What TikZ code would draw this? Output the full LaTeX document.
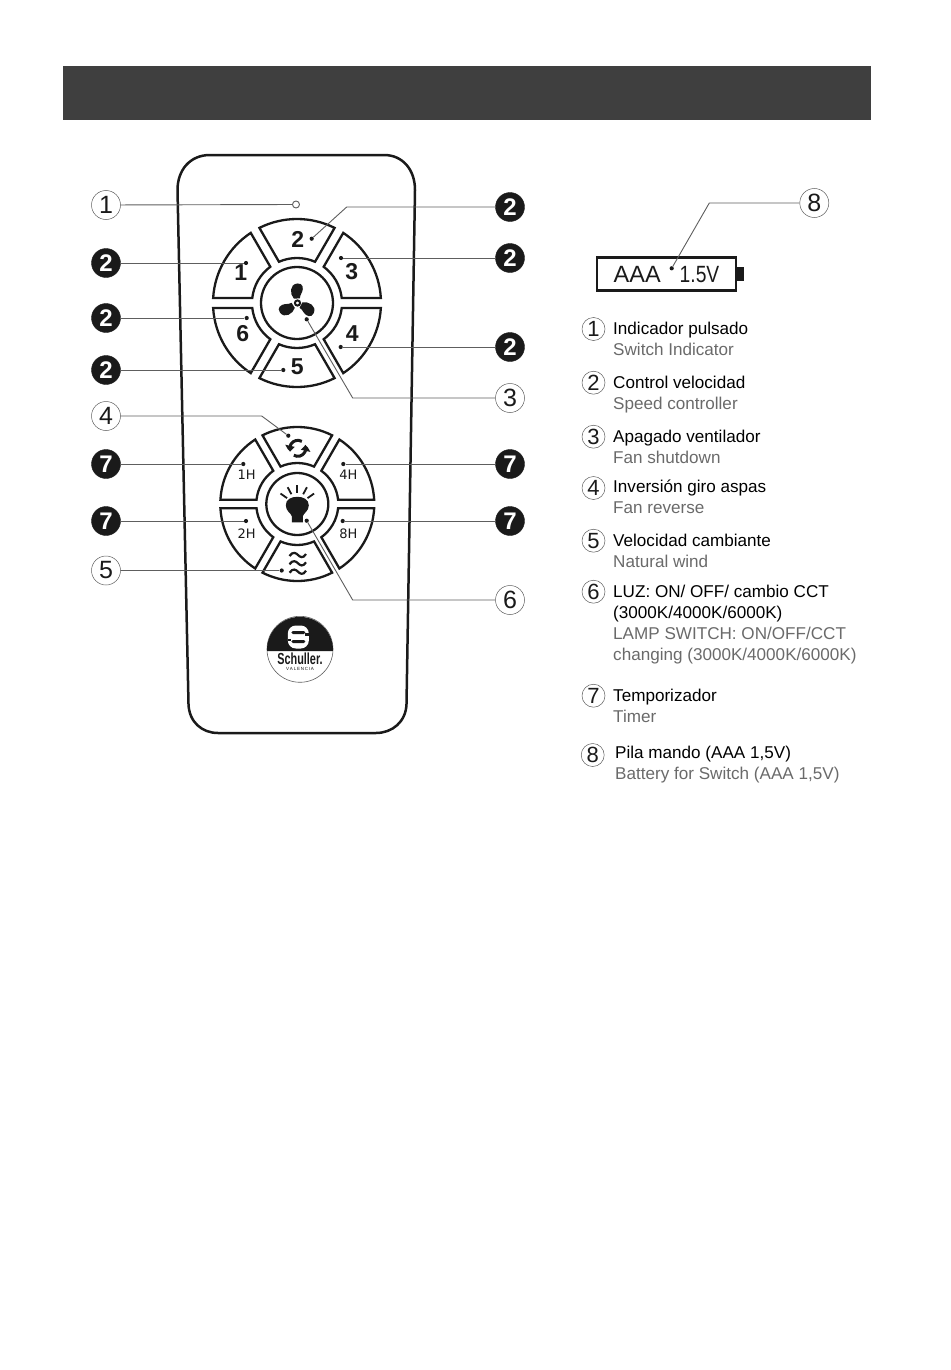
\documentclass[tikz,border=0pt]{standalone}
\usepackage{fontspec}
\setmainfont{Liberation Sans}
\usepackage{xcolor}
\usepackage{tikz}
\usetikzlibrary{arrows.meta,bending,positioning}

\definecolor{headgray}{HTML}{3F3F3F}
\definecolor{leadgray}{HTML}{5E5E5E}
\definecolor{inkblack}{HTML}{1A1A1A}
\definecolor{subgray}{HTML}{6A6A6A}

\tikzset{
  callblack/.style={circle, fill=inkblack, draw=inkblack, minimum size=29pt, inner sep=0pt,
    text=white, font=\fontsize{24}{24}\selectfont\bfseries},
  callwhite/.style={circle, fill=white, draw=leadgray, line width=0.5pt, minimum size=29pt, inner sep=0pt,
    text=inkblack, font=\fontsize{25}{25}\selectfont},
  legcircle/.style={circle, fill=white, draw=leadgray, line width=0.5pt, minimum size=23pt, inner sep=0pt,
    text=inkblack, font=\fontsize{22}{22}\selectfont},
  legtext/.style={anchor=west, align=left, inner sep=0pt, text=black, font=\fontsize{17.1}{21}\selectfont},
  leaddot/.style={circle, fill=inkblack, minimum size=4.2pt, inner sep=0pt},
  lead/.style={draw=leadgray, line width=0.9pt},
  keyline/.style={draw=inkblack, line width=2.3pt, fill=white},
  keynum/.style={inner sep=0pt, text=inkblack, font=\fontsize{23}{23}\selectfont\bfseries},
  timernum/.style={inner sep=0pt, text=inkblack, font=\fontsize{13}{13}\selectfont\fontspec{DejaVu Sans}},
}

% one ring of six keys round (0,0): #1 outer radius, #2 inner radius, #3 half gap
\newcommand{\keyring}[3]{
  \foreach \mid in {90,30,-30,-90,-150,150} {
    \pgfmathsetmacro{\dout}{asin(#3/#1)}
    \pgfmathsetmacro{\din}{asin(#3/#2)}
    \pgfmathsetmacro{\oa}{\mid-30+\dout}
    \pgfmathsetmacro{\ob}{\mid+30-\dout}
    \pgfmathsetmacro{\ia}{\mid+30-\din}
    \pgfmathsetmacro{\ib}{\mid-30+\din}
    \draw[keyline] (\oa:#1pt) arc[start angle=\oa, end angle=\ob, radius=#1pt]
      -- (\ia:#2pt) arc[start angle=\ia, end angle=\ib, radius=#2pt] -- cycle;
  }
}

\begin{document}
\begin{tikzpicture}[x=1pt, y=1pt, >=Latex]
\useasboundingbox (0,0) rectangle (950,-1370);
\fill[headgray] (63,-66) rectangle (871,-120);

% remote body
\draw[draw=inkblack, line width=2.5pt, line join=round] (210,-155) -- (384,-155)
 .. controls (403,-155) and (415,-170) .. (415,-190)
 -- (406.5,-704)
 .. controls (406,-722) and (392,-733) .. (376,-733)
 -- (218,-733)
 .. controls (202,-733) and (189,-722) .. (188.5,-704)
 -- (177.5,-190)
 .. controls (177.5,-170) and (190,-155) .. (210,-155) -- cycle;

% upper wheel
\begin{scope}[shift={(297,-303)}]
  \keyring{84}{45}{5}
  \draw[keyline] (0,0) circle[radius=36pt];
  \foreach \turn in {0,120,240} {
    \fill[inkblack, rotate=\turn+2] (-3,4.5) .. controls (-7,9) and (-7,19) .. (1,19.5)
      .. controls (7,20) and (7,14) .. (5.5,11) .. controls (4,8) and (3,6.5) .. (3,4.5) -- cycle;
  }
  \draw[inkblack, line width=2pt, fill=white] (0.5,0) circle[radius=2.6pt];
\end{scope}
\node[keynum] (up2) at (297.7,-239.3) {2};
\node[keynum] (up3) at (351.7,-271.7) {3};
\node[keynum] (up4) at (352.3,-334) {4};
\node[keynum] (up5) at (297.3,-366.7) {5};
\node[keynum] (up6) at (242.7,-333.3) {6};
\node[keynum] (up1) at (240.7,-272.7) {1};

% lower wheel
\begin{scope}[shift={(297.3,-504)}]
  \keyring{77}{41}{4.2}
  \draw[keyline] (0,0) circle[radius=31pt];
\end{scope}
\node[timernum] (low1) at (246.7,-475) {1H};
\node[timernum] (low4) at (348.3,-475) {4H};
\node[timernum] (low2) at (246.7,-533.3) {2H};
\node[timernum] (low8) at (348.3,-533.3) {8H};

% lamp
\begin{scope}[shift={(297.3,-505.3)}]
  \fill[inkblack] (-5.5,-17) -- (-5.5,-11) .. controls (-6,-8) and (-11.5,-6) .. (-11.5,0)
    .. controls (-11.5,6) and (-6,8.5) .. (0,8.5) .. controls (6,8.5) and (11.5,6) .. (11.5,0)
    .. controls (11.5,-6) and (6,-8) .. (5.5,-11) -- (5.5,-17) -- cycle;
  \foreach \ray in {35,62,90,118,145} {
    \draw[inkblack, line width=1.8pt] (\ray:12.5pt) -- (\ray:20.5pt);
  }
\end{scope}

% reverse arrows
\begin{scope}[shift={(297.8,-448.3)}]
  \draw[inkblack, line width=3pt, -{Triangle[bend,width=9.5pt,length=6pt]}] (60:8pt) arc[start angle=60, end angle=205, radius=8pt];
  \draw[inkblack, line width=3pt, -{Triangle[bend,width=9.5pt,length=6pt]}] (240:8pt) arc[start angle=240, end angle=385, radius=8pt];
\end{scope}

% wind waves
\foreach \wy in {-555,-563.3,-571.7} {
  \draw[inkblack, line width=2.2pt] (289.5,\wy-1) .. controls (293,\wy+4) and (296,\wy+2) .. (298,\wy)
    .. controls (300,\wy-2) and (303,\wy-4) .. (306,\wy+1);
}

% logo
\draw[draw=leadgray, line width=0.6pt, fill=white] (300,-649.3) circle[radius=33pt];
\fill[inkblack] (267,-651) arc[start angle=182, end angle=-2, radius=33pt] -- cycle;
\begin{scope}[shift={(298.3,-637)}]
  \fill[white, rounded corners=8pt] (-10.5,-11.5) rectangle (10.5,11.5);
  \fill[inkblack, rounded corners=1.5pt] (-7,6) rectangle (7,3);
  \fill[inkblack, rounded corners=1.5pt] (-7,-6) rectangle (7,-3);
  \fill[inkblack] (-10.5,-1.5) rectangle (-7,-4);
  \fill[inkblack] (10.5,1.5) rectangle (7,4);
\end{scope}
\node[inner sep=0pt, text=inkblack, font=\fontsize{16}{16}\selectfont\bfseries] (brand) at (300,-658.5)
  {\scalebox{0.68}[1]{Schuller.}};
\node[inner sep=0pt, text=inkblack, font=\fontsize{4.5}{5}\selectfont, below=3pt of brand] (city) {V\,A\,L\,E\,N\,C\,I\,A};

% callouts, left
\node[callwhite] (c1) at (106,-205) {1};
\node[callblack] (s1) at (106,-263) {2};
\node[callblack] (s6) at (106,-318) {2};
\node[callblack] (s5) at (106,-370) {2};
\node[callwhite] (c4) at (106,-416) {4};
\node[callblack] (t1) at (106,-464) {7};
\node[callblack] (t2) at (106,-521) {7};
\node[callwhite] (c5) at (106,-570.5) {5};
% callouts, right
\node[callblack] (s2) at (510,-207) {2};
\node[callblack] (s3) at (510,-258) {2};
\node[callblack] (s4) at (510,-347) {2};
\node[callwhite] (c3) at (510,-398) {3};
\node[callblack] (t4) at (510,-464) {7};
\node[callblack] (t8) at (510,-521) {7};
\node[callwhite] (c6) at (510,-600) {6};

% led and target dots
\node[circle, draw=leadgray, line width=0.9pt, fill=white, minimum size=7pt, inner sep=0pt] (led) at (296,-204.5) {};
\node[leaddot] (d1) at (246,-263) {};
\node[leaddot] (d2) at (311.7,-238.7) {};
\node[leaddot] (d3) at (341,-258) {};
\node[leaddot] (d4) at (340.7,-347) {};
\node[leaddot] (d5) at (283.3,-370) {};
\node[leaddot] (d6) at (246.7,-318) {};
\node[leaddot] (dfan) at (306.7,-319.3) {};
\node[leaddot] (drev) at (288.3,-435.7) {};
\node[leaddot] (d1h) at (243.3,-464) {};
\node[leaddot] (d4h) at (343.3,-464) {};
\node[leaddot] (d2h) at (246,-521) {};
\node[leaddot] (d8h) at (342.7,-521) {};
\node[leaddot] (dwind) at (281.7,-570.5) {};
\node[leaddot] (dlamp) at (306.7,-520.7) {};

\coordinate (b2) at (346.7,-207);
\coordinate (b3) at (352.7,-398);
\coordinate (b4) at (261.7,-416);
\coordinate (b6) at (352.7,-600);

\draw[lead] (c1) -- (led);
\draw[lead] (s1) -- (d1);
\draw[lead] (s6) -- (d6);
\draw[lead] (s5) -- (d5);
\draw[lead] (t1) -- (d1h);
\draw[lead] (t2) -- (d2h);
\draw[lead] (c5) -- (dwind);
\draw[lead] (s3) -- (d3);
\draw[lead] (s4) -- (d4);
\draw[lead] (t4) -- (d4h);
\draw[lead] (t8) -- (d8h);
\draw[lead] (s2) -- (b2) -- (d2);
\draw[lead] (c3) -- (b3) -- (dfan);
\draw[lead] (c4) -- (b4) -- (drev);
\draw[lead] (c6) -- (b6) -- (dlamp);

% battery
\draw[draw=inkblack, line width=2.4pt] (596.7,-257.3) rectangle (736,-290.3);
\fill[inkblack] (736,-267.3) rectangle (743.5,-280.7);
\node[inner sep=0pt, text=inkblack, font=\fontsize{23.5}{24}\selectfont] (batt) at (666.5,-274.5)
  {AAA\hspace{19pt}\scalebox{0.82}[1]{1.5V}};
\node[leaddot] (dbat) at (671.7,-268.3) {};
\node[callwhite] (c8) at (814.3,-203) {8};
\coordinate (b8) at (709.3,-203);
\draw[lead] (c8) -- (b8) -- (dbat);

% legend
\node[legcircle] (l1) at (593.5,-329) {1};
\node[legcircle] (l2) at (593.5,-382.7) {2};
\node[legcircle] (l3) at (593.5,-436.7) {3};
\node[legcircle] (l4) at (593.5,-488) {4};
\node[legcircle] (l5) at (593.5,-540.7) {5};
\node[legcircle] (l6) at (593.5,-591.7) {6};
\node[legcircle] (l7) at (593.5,-695.7) {7};
\node[legcircle] (l8) at (592.7,-755) {8};
\node[legtext] (t1a) at (613,-338.5) {Indicador pulsado\\ \textcolor{subgray}{Switch Indicator}};
\node[legtext] (t2a) at (613,-394.5) {Control velocidad\\ \textcolor{subgray}{Speed controller}};
\node[legtext] (t3a) at (613,-446.5) {Apagado ventilador\\ \textcolor{subgray}{Fan shutdown}};
\node[legtext] (t4a) at (613,-497) {Inversión giro aspas\\ \textcolor{subgray}{Fan reverse}};
\node[legtext] (t5a) at (613,-551) {Velocidad cambiante\\ \textcolor{subgray}{Natural wind}};
\node[legtext] (t6a) at (613,-624.5) {LUZ: ON/ OFF/ cambio CCT\\ (3000K/4000K/6000K)\\ \textcolor{subgray}{LAMP SWITCH: ON/OFF/CCT}\\ \textcolor{subgray}{changing (3000K/4000K/6000K)}};
\node[legtext] (t7a) at (613,-705.5) {Temporizador\\ \textcolor{subgray}{Timer}};
\node[legtext] (t8a) at (615,-765) {Pila mando (AAA 1,5V)\\ \textcolor{subgray}{Battery for Switch (AAA 1,5V)}};
\end{tikzpicture}
\end{document}
